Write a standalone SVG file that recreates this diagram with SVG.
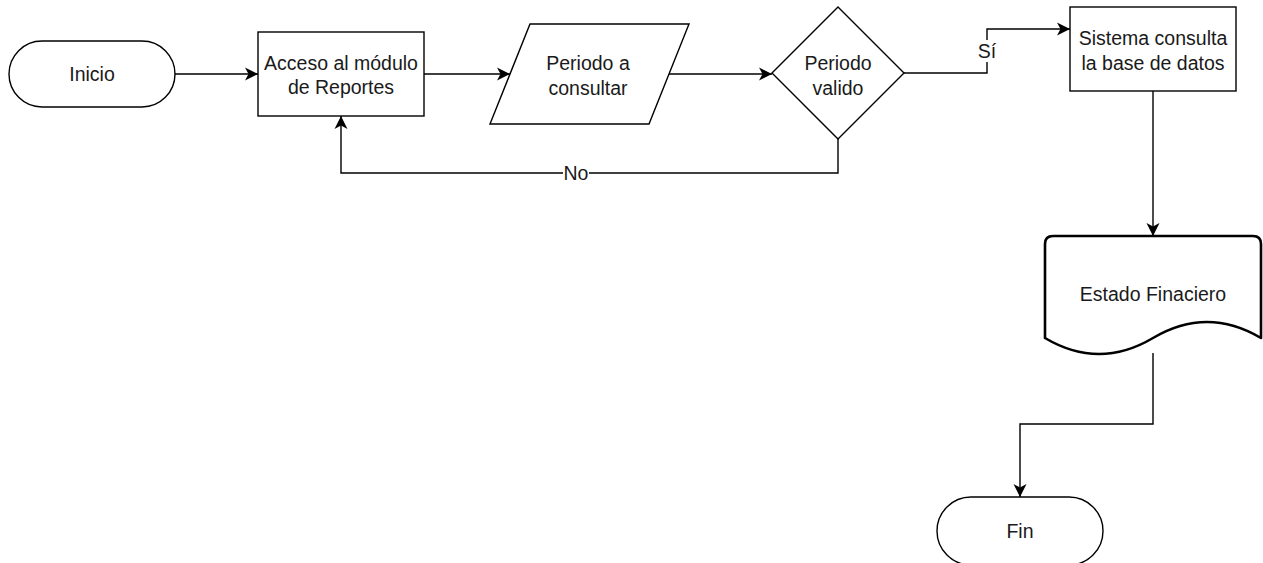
<svg xmlns="http://www.w3.org/2000/svg" width="1263" height="563" viewBox="0 0 1263 563">
  <style>
    .shape { fill: #ffffff; stroke: #000000; stroke-width: 1.4; }
    .doc { fill: #ffffff; stroke: #000000; stroke-width: 2.6; stroke-linejoin: round; }
    .edge { fill: none; stroke: #000000; stroke-width: 1.4; }
    .label { font-family: "Liberation Sans", Arial, sans-serif; font-size: 19.5px; fill: #1a1a1a; text-anchor: middle; }
    .elabel { font-family: "Liberation Sans", Arial, sans-serif; font-size: 19.5px; fill: #1a1a1a; text-anchor: middle; }
  </style>
  <defs>
    <marker id="arrow" markerWidth="16" markerHeight="14" refX="13" refY="7" orient="auto" markerUnits="userSpaceOnUse">
      <path d="M0,0.5 L13,7 L0,13.5 L3.5,7 Z" fill="#000000"/>
    </marker>
  </defs>
  <rect width="1263" height="563" fill="#ffffff"/>

  <!-- connectors -->
  <g id="connectors">
    <path class="edge" d="M175,74 H258" marker-end="url(#arrow)"/>
    <path class="edge" d="M424,74 H510" marker-end="url(#arrow)"/>
    <path class="edge" d="M669,74 H772" marker-end="url(#arrow)"/>
    <path class="edge" d="M838,139 V173 H341 V116" marker-end="url(#arrow)"/>
    <rect x="563" y="162" width="26" height="22" fill="#ffffff"/>
    <text class="elabel" x="576" y="180">No</text>
    <path class="edge" d="M904,73 H987 V29 H1070" marker-end="url(#arrow)"/>
    <rect x="977" y="40" width="20" height="22" fill="#ffffff"/>
    <text class="elabel" x="987" y="58">Sí</text>
    <path class="edge" d="M1153,91 V236" marker-end="url(#arrow)"/>
    <path class="edge" d="M1153,353 V424 H1020 V497" marker-end="url(#arrow)"/>
  </g>

  <!-- start -->
  <g id="inicio">
    <rect class="shape" x="9" y="41" width="166" height="66" rx="33" ry="33"/>
    <text class="label" x="92" y="81">Inicio</text>
  </g>

  <!-- access to reports module -->
  <g id="acceso">
    <rect class="shape" x="258" y="32" width="166" height="84"/>
    <text class="label" x="341" y="70">Acceso al módulo</text>
    <text class="label" x="341" y="94">de Reportes</text>
  </g>

  <!-- period input -->
  <g id="periodo">
    <polygon class="shape" points="530,24 689,24 649,124 490,124"/>
    <text class="label" x="588" y="70">Periodo a</text>
    <text class="label" x="588" y="95">consultar</text>
  </g>

  <!-- validity decision -->
  <g id="valido">
    <polygon class="shape" points="838,7 904,73 838,139 772,73"/>
    <text class="label" x="838" y="70">Periodo</text>
    <text class="label" x="838" y="95">valido</text>
  </g>

  <!-- database query -->
  <g id="sistema">
    <rect class="shape" x="1070" y="7" width="166" height="84"/>
    <text class="label" x="1153" y="45">Sistema consulta</text>
    <text class="label" x="1153" y="70">la base de datos</text>
  </g>

  <!-- financial statement document -->
  <g id="estado">
    <path class="doc" d="M1045,338 V244 Q1045,236 1053,236 H1253 Q1261,236 1261,244 V338 Q1207,306 1153,338 Q1099,370 1045,338 Z"/>
    <text class="label" x="1153" y="301">Estado Finaciero</text>
  </g>

  <!-- end -->
  <g id="fin">
    <rect class="shape" x="937" y="497" width="166" height="68" rx="34" ry="34"/>
    <text class="label" x="1020" y="538">Fin</text>
  </g>
</svg>
